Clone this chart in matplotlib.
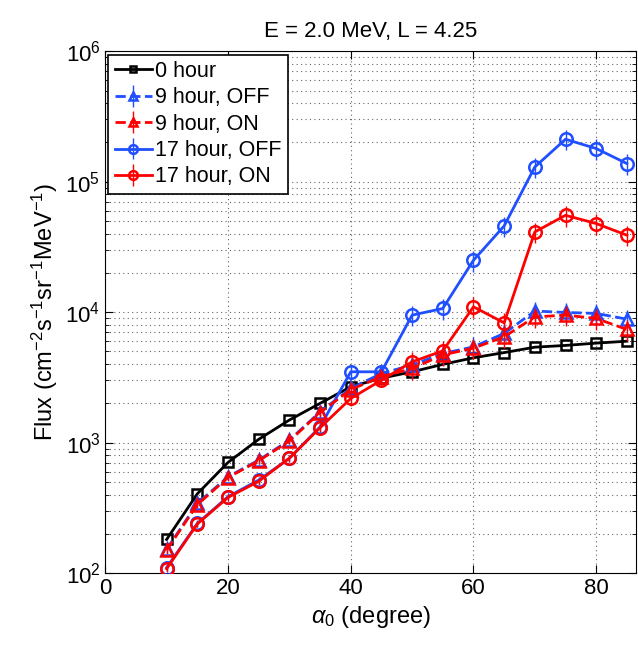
import matplotlib
matplotlib.use("Agg")
import matplotlib.pyplot as plt
from matplotlib.ticker import LogLocator, NullFormatter

plt.rcParams["font.family"] = ["Liberation Sans", "DejaVu Sans"]
plt.rcParams["mathtext.fontset"] = "custom"
plt.rcParams["mathtext.rm"] = "Liberation Sans"
plt.rcParams["mathtext.it"] = "Liberation Sans:italic"

alpha = [10, 15, 20, 25, 30, 35, 40, 45, 50, 55, 60, 65, 70, 75, 80, 85]

flux_0h = [181, 405, 705, 1060, 1490, 2000, 2680, 3120, 3490, 3980,
           4470, 4900, 5390, 5560, 5790, 5990]
flux_9h_off = [152, 342, 547, 734, 1045, 1720, 2600, 3390, 3930, 4820,
               5420, 6870, 10200, 9950, 9780, 8840]
flux_9h_on = [150, 335, 540, 725, 1030, 1700, 2550, 3200, 3700, 4700,
              5300, 6470, 9200, 9490, 8950, 7370]
flux_17h_off = [110, 240, 385, 516, 757, 1320, 3490, 3490, 9490, 10670,
                25000, 45800, 129800, 211700, 179600, 137800]
flux_17h_on = [108, 238, 380, 505, 760, 1300, 2180, 3010, 4160, 5050,
               10990, 8280, 41200, 55300, 47800, 38900]
# relative uncertainty (fraction of flux) for the error bars
rel_err = [0.06, 0.06, 0.06, 0.06, 0.06, 0.08, 0.12, 0.12, 0.18, 0.18,
           0.18, 0.18, 0.18, 0.18, 0.18, 0.18]

BLUE = "#1f4fff"
RED = "#ff0000"

fig = plt.figure(figsize=(6.38, 6.49), dpi=100)
ax = fig.add_axes([0.165, 0.117, 0.832, 0.804])


def yerr(vals):
    return [v * e for v, e in zip(vals, rel_err)]


ax.plot(alpha, flux_0h, "-s", color="black", lw=2, ms=7, mfc="none", mew=1.8,
        label="0 hour", zorder=3)
ax.errorbar(alpha, flux_9h_off, yerr=yerr(flux_9h_off), fmt="--^", color=BLUE,
            lw=2, ms=9, mfc="none", mew=1.8, elinewidth=1.0, capsize=0,
            label="9 hour, OFF", zorder=3)
ax.errorbar(alpha, flux_9h_on, yerr=yerr(flux_9h_on), fmt="--^", color=RED,
            lw=2, ms=9, mfc="none", mew=1.8, elinewidth=1.0, capsize=0,
            label="9 hour, ON", zorder=4)
ax.errorbar(alpha, flux_17h_off, yerr=yerr(flux_17h_off), fmt="-o", color=BLUE,
            lw=2, ms=9, mfc="none", mew=1.8, elinewidth=1.0, capsize=0,
            label="17 hour, OFF", zorder=3)
ax.errorbar(alpha, flux_17h_on, yerr=yerr(flux_17h_on), fmt="-o", color=RED,
            lw=2, ms=9, mfc="none", mew=1.8, elinewidth=1.0, capsize=0,
            label="17 hour, ON", zorder=4)

ax.set_yscale("log")
ax.set_xlim(0, 86.5)
ax.set_ylim(1e2, 1e6)
ax.set_xticks([0, 20, 40, 60, 80])
ax.yaxis.set_major_locator(LogLocator(base=10, numticks=10))
ax.yaxis.set_minor_locator(LogLocator(base=10, subs=range(2, 10), numticks=10))
ax.yaxis.set_minor_formatter(NullFormatter())
ax.tick_params(which="both", direction="in", top=True, right=True, labelsize=16)
ax.tick_params(which="major", length=6)
ax.tick_params(which="minor", length=3)
ax.grid(True, which="major", linestyle=(0, (1, 3)), color="#666666", lw=0.8)
ax.grid(True, which="minor", axis="y", linestyle=(0, (1, 3)), color="#666666", lw=0.8)

ax.set_title("E = 2.0 MeV, L = 4.25", fontsize=16, pad=10)
ax.set_xlabel(r"$\alpha_0$ (degree)", fontsize=17)
ax.set_ylabel(r"Flux (cm$^{-2}$s$^{-1}$sr$^{-1}$MeV$^{-1}$)", fontsize=17)

leg = ax.legend(loc="upper left", fontsize=15.5, handlelength=1.7, handletextpad=0.15,
                borderpad=0.3, labelspacing=0.25, borderaxespad=0.15, fancybox=False,
                framealpha=1, edgecolor="black", markerscale=0.7)
leg.get_frame().set_linewidth(1.2)
for line in leg.get_lines():
    line.set_linewidth(2)

fig.savefig("out.png", dpi=100, facecolor="white")
